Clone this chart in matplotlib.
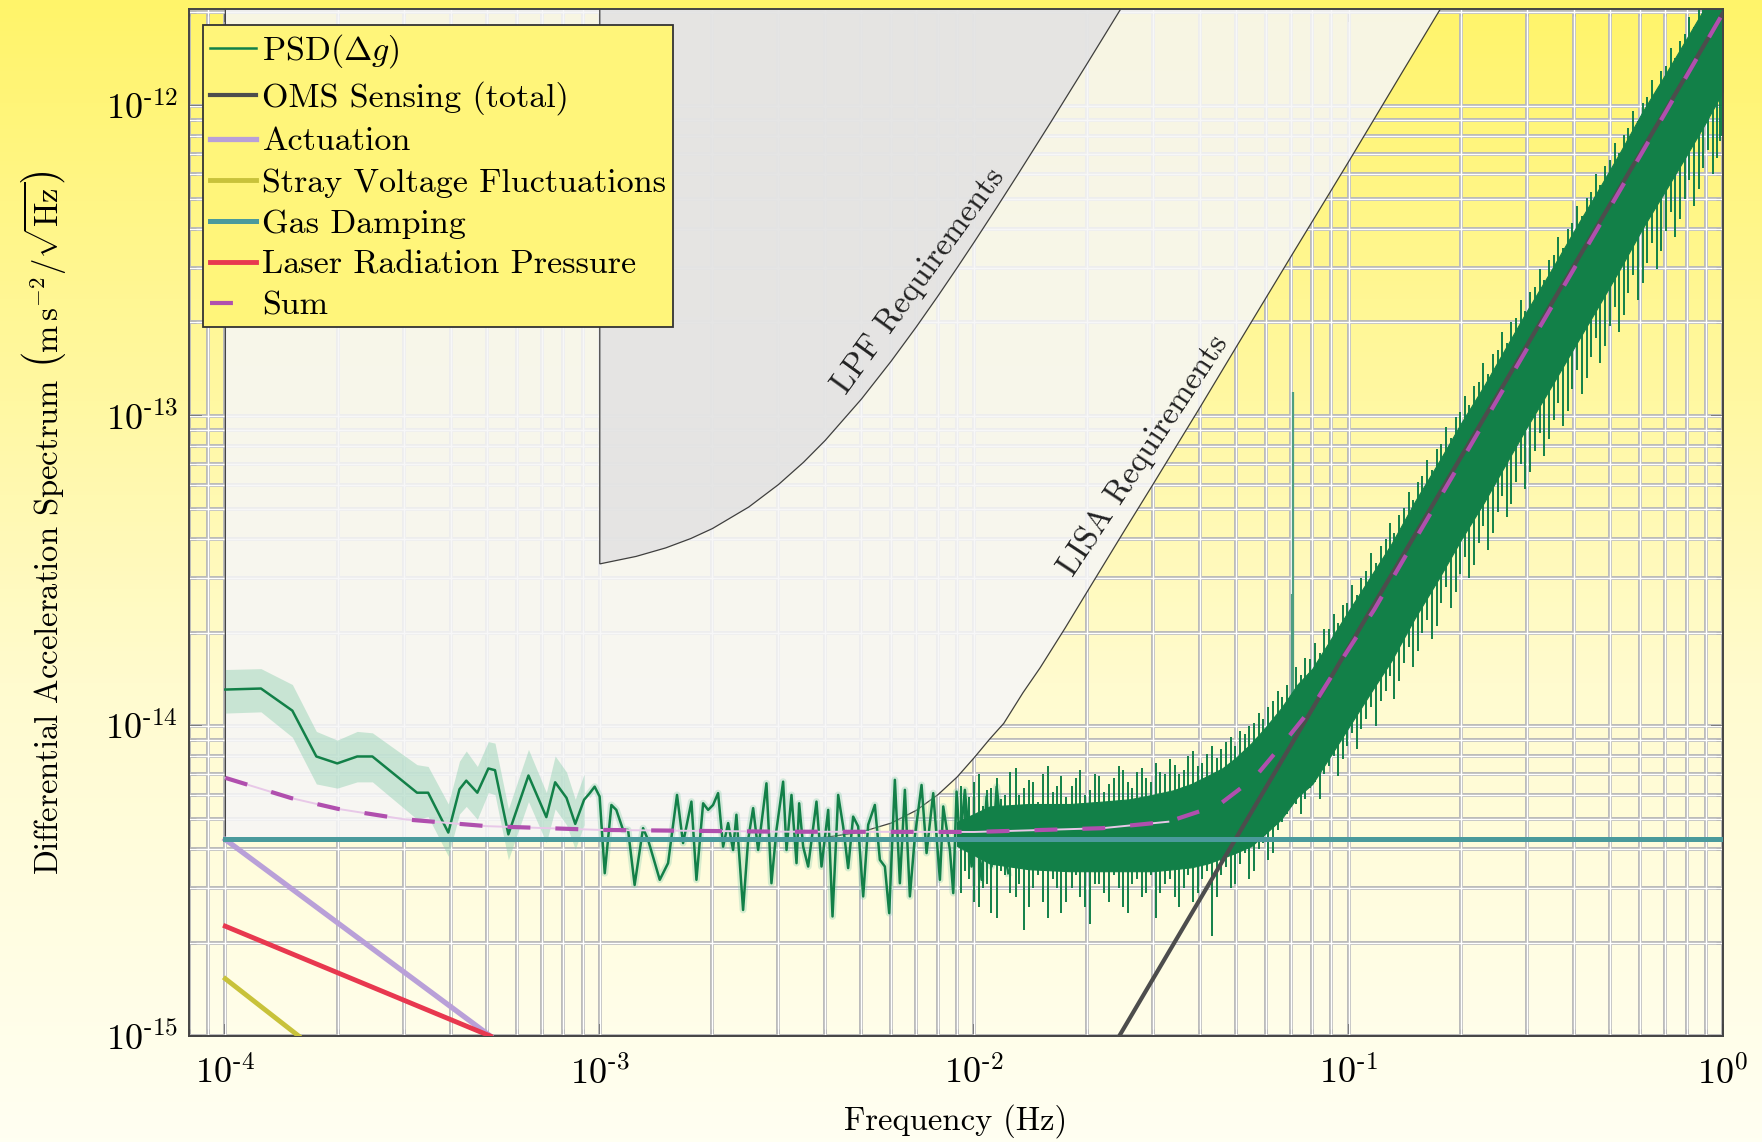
import numpy as np
import matplotlib
matplotlib.use('Agg')
import matplotlib.pyplot as plt
from matplotlib.colors import LinearSegmentedColormap
from matplotlib.ticker import LogLocator, NullFormatter, FuncFormatter

plt.rcParams['font.family'] = ['cmr10', 'DejaVu Serif']
plt.rcParams['mathtext.fontset'] = 'cm'
plt.rcParams['axes.formatter.use_mathtext'] = True

FM = 1e-15  # spectra below are in fm s^-2 / sqrt(Hz)

# measured PSD, low frequencies (mHz) with error band
psd_low_f = [0.100, 0.1245, 0.151, 0.175, 0.199, 0.225, 0.247, 0.325, 0.348, 0.394, 0.422,
             0.440, 0.471, 0.504, 0.525, 0.570, 0.645, 0.720, 0.760, 0.815, 0.860, 0.908]
psd_low = [13.1, 13.2, 11.2, 7.97, 7.57, 7.97, 7.97, 6.09, 6.09, 4.53, 6.25,
           6.66, 6.09, 7.29, 7.20, 4.47, 6.92, 5.08, 6.58, 5.86, 4.83, 5.78]
psd_low_hi = [15.2, 15.3, 13.6, 9.6, 9.0, 9.6, 9.5, 7.5, 7.4, 5.6, 7.7,
              8.3, 7.4, 8.9, 8.8, 5.4, 8.4, 6.1, 8.0, 7.1, 5.8, 7.0]
psd_low_lo = [11.0, 11.1, 9.2, 6.5, 6.3, 6.6, 6.6, 5.0, 5.1, 3.8, 5.2,
              5.5, 5.0, 6.1, 6.0, 3.7, 5.7, 4.2, 5.4, 4.8, 4.0, 4.8]

# measured PSD, mid frequencies (mHz)
psd_mid_f = [0.94, 0.969, 0.999, 1.031, 1.074, 1.107, 1.154, 1.190, 1.239, 1.305, 1.346,
             1.446, 1.522, 1.608, 1.669, 1.757, 1.812, 1.888, 1.947, 2.007, 2.070, 2.135,
             2.202, 2.270, 2.317, 2.414, 2.490, 2.568, 2.648, 2.787, 2.874, 2.964, 3.088,
             3.153, 3.251, 3.353, 3.408, 3.493, 3.602, 3.791, 3.910, 4.074, 4.184, 4.332,
             4.467, 4.606, 4.750, 4.899, 5.052, 5.210, 5.428, 5.598, 5.773, 5.929, 6.139,
             6.331, 6.529, 6.733, 6.943, 7.234, 7.460, 7.773, 8.098, 8.266, 8.612, 8.790,
             8.973, 9.159, 9.443, 9.839, 10.146, 10.464, 10.791, 11.128, 11.480, 11.960, 12.333]
psd_mid = [6.07, 6.37, 5.92, 3.35, 5.56, 5.36, 4.62, 4.62, 3.07, 4.68, 4.29,
           3.19, 3.61, 5.99, 4.19, 5.70, 3.19, 5.63, 5.36, 5.56, 6.07, 4.08,
           4.86, 3.98, 5.17, 2.55, 4.29, 5.43, 3.98, 6.53, 3.11, 4.62, 6.61,
           3.98, 5.99, 3.61, 5.63, 4.08, 3.52, 5.70, 3.52, 5.36, 2.43, 5.99,
           4.74, 3.48, 5.10, 4.74, 2.82, 4.80, 5.56, 3.70, 3.52, 2.49, 6.70,
           3.11, 6.22, 2.82, 4.40, 6.45, 3.89, 6.07, 3.19, 5.50, 3.98, 2.89,
           6.14, 4.19, 6.22, 3.52, 4.74, 3.19, 5.92, 3.52, 6.37, 4.08, 3.35]

# measured PSD, dense high-frequency part: solid core (Hz)
core_f = [0.009, 0.011, 0.014, 0.018, 0.022, 0.026, 0.030, 0.034, 0.038, 0.042, 0.046, 0.050,
          0.055, 0.060, 0.066, 0.073, 0.080, 0.090, 0.100, 0.115, 0.130, 0.150, 0.175, 0.200,
          0.230, 0.260, 0.300, 0.350, 0.400, 0.460, 0.530, 0.610, 0.700, 0.800, 0.900, 1.000]
core_up = [4.9, 5.5, 5.6, 5.6, 5.7, 5.8, 6.0, 6.2, 6.5, 6.9, 7.3, 7.9,
           8.8, 9.9, 11.4, 13.6, 15.3, 19.2, 23.5, 30.6, 38.6, 52.7, 71.8, 95.0,
           125.0, 162.0, 219.0, 299.0, 395.0, 525.0, 705.0, 958.0, 1258.0, 1650.0, 2100.0, 2650.0]
core_dn = [4.1, 3.6, 3.45, 3.4, 3.4, 3.4, 3.4, 3.45, 3.5, 3.6, 3.75, 3.9,
           4.1, 4.5, 5.0, 5.9, 6.5, 8.1, 9.9, 12.9, 16.2, 22.2, 30.2, 40.0,
           52.6, 68.3, 92.4, 126.0, 166.0, 221.0, 297.0, 403.0, 530.0, 694.0, 885.0, 1114.0]

# measured PSD, dense high-frequency part: excursions (Hz)
spike_f = [0.0092, 0.0097, 0.0103, 0.0108, 0.0115, 0.0121, 0.0129, 0.0136, 0.0144, 0.0153,
           0.0162, 0.0171, 0.0182, 0.0192, 0.0204, 0.0216, 0.0229, 0.0243, 0.0257, 0.0272,
           0.0288, 0.0305, 0.0323, 0.0343, 0.0363, 0.0384, 0.0407, 0.0431, 0.0457, 0.0484,
           0.0513, 0.0543, 0.0575, 0.0609, 0.0646, 0.0684, 0.0724, 0.0767, 0.0813, 0.0861,
           0.0912, 0.0966, 0.102, 0.108, 0.115, 0.122, 0.129, 0.136, 0.145, 0.153,
           0.162, 0.172, 0.182, 0.193, 0.204, 0.216, 0.229, 0.243, 0.257, 0.272,
           0.288, 0.305, 0.324, 0.343, 0.363, 0.385, 0.407, 0.432, 0.457, 0.484,
           0.513, 0.543, 0.575, 0.610, 0.646, 0.684, 0.725, 0.768, 0.813, 0.861,
           0.912, 0.966, 0.995]
spike_hi = [6.4, 5.9, 7.0, 6.2, 6.8, 6.0, 7.3, 6.3, 6.6, 7.0,
            6.1, 6.9, 6.4, 7.2, 6.2, 6.9, 6.5, 7.4, 6.6, 7.1,
            6.8, 7.6, 7.0, 7.5, 7.2, 8.3, 7.6, 8.6, 8.4, 9.2,
            9.6, 10.0, 11.0, 11.5, 13.0, 13.5, 15.5, 16.5, 18.5, 20.5,
            23.0, 24.5, 28.5, 30.0, 36.0, 38.0, 45.0, 48.0, 57.0, 61.0,
            72.0, 78.0, 92.0, 99.0, 116.0, 125.0, 148.0, 158.0, 186.0, 200.0,
            236.0, 250.0, 298.0, 318.0, 376.0, 400.0, 474.0, 505.0, 600.0, 640.0,
            760.0, 805.0, 960.0, 1020.0, 1210.0, 1290.0, 1530.0, 1620.0, 1930.0, 2050.0,
            2400.0, 2600.0, 2800.0]
spike_lo = [2.9, 3.2, 2.6, 3.1, 2.4, 3.3, 2.8, 2.2, 3.0, 2.7,
            3.2, 2.5, 3.0, 2.8, 2.3, 3.1, 2.7, 3.0, 2.5, 3.2,
            2.9, 2.4, 3.1, 2.8, 3.0, 2.7, 3.2, 2.1, 3.3, 3.0,
            3.6, 3.2, 4.0, 3.7, 4.6, 5.2, 5.6, 5.8, 6.6, 7.0,
            8.0, 7.8, 9.5, 9.8, 11.5, 12.0, 14.5, 14.0, 18.0, 17.5,
            22.0, 21.0, 28.0, 27.0, 35.0, 33.0, 44.0, 42.0, 55.0, 52.0,
            70.0, 66.0, 88.0, 84.0, 110.0, 104.0, 140.0, 132.0, 178.0, 168.0,
            225.0, 212.0, 285.0, 268.0, 360.0, 340.0, 455.0, 430.0, 575.0, 540.0,
            720.0, 680.0, 800.0]
spike2_f = [0.00945, 0.0100, 0.01055, 0.0111, 0.0118, 0.0125, 0.0132, 0.0140, 0.0148, 0.0157,
            0.0166, 0.0176, 0.0187, 0.0198, 0.0210, 0.0222, 0.0236, 0.0250, 0.0264, 0.0280,
            0.0296, 0.0314, 0.0333, 0.0353, 0.0373, 0.0395, 0.0419, 0.0444, 0.0470, 0.0498,
            0.0528, 0.0559, 0.0592, 0.0627, 0.0665,
            0.0745, 0.0790, 0.0837, 0.0886, 0.0939, 0.0993, 0.105, 0.1115, 0.1185, 0.1255,
            0.1325, 0.1405, 0.149, 0.1575, 0.167, 0.177, 0.1875, 0.1985, 0.210, 0.2225,
            0.236, 0.250, 0.2645, 0.280, 0.2965, 0.3145, 0.3335, 0.353, 0.374, 0.396,
            0.4195, 0.4445, 0.4705, 0.4985, 0.528, 0.559, 0.592, 0.628, 0.665, 0.704,
            0.746, 0.790, 0.837, 0.886, 0.9385, 0.980]
spike2_hi = [5.7, 6.6, 5.5, 6.3, 5.8, 7.1, 6.0, 6.7, 5.7, 7.4,
             6.4, 5.9, 6.8, 6.0, 7.0, 6.1, 6.8, 7.2, 6.3, 7.3,
             6.6, 7.1, 7.8, 7.0, 8.0, 7.4, 8.1, 7.9, 8.9, 8.6,
             9.4, 10.2, 10.5, 12.0, 12.4,
             14.6, 16.4, 17.2, 20.5, 21.5, 25.0, 26.5, 31.5, 33.5, 40.0,
             42.0, 50.5, 53.5, 64.0, 67.0, 81.0, 85.0, 103.0, 108.0, 129.0,
             136.0, 163.0, 172.0, 206.0, 217.0, 260.0, 275.0, 330.0, 348.0, 418.0,
             440.0, 528.0, 556.0, 668.0, 705.0, 845.0, 890.0, 1065.0, 1125.0, 1345.0,
             1420.0, 1700.0, 1790.0, 2140.0, 2260.0, 2600.0]
spike2_lo = [3.4, 2.7, 3.0, 2.5, 3.4, 2.9, 3.1, 2.6, 3.3, 2.4,
             3.0, 2.7, 3.3, 2.6, 3.1, 2.9, 3.3, 2.6, 3.1, 2.8,
             3.3, 2.9, 3.2, 2.6, 3.3, 2.9, 3.4, 2.8, 3.5, 3.1,
             3.9, 3.4, 4.2, 3.9, 4.9,
             5.2, 6.3, 5.8, 7.4, 6.9, 8.6, 8.4, 10.5, 10.0, 13.0,
             12.2, 16.0, 15.5, 20.0, 19.0, 25.0, 24.0, 31.0, 30.0, 39.0,
             37.0, 49.0, 47.0, 61.0, 58.0, 77.0, 74.0, 97.0, 93.0, 122.0,
             118.0, 155.0, 148.0, 195.0, 186.0, 248.0, 236.0, 312.0, 298.0, 395.0,
             378.0, 500.0, 475.0, 630.0, 600.0, 770.0]

# narrow lines in the measured PSD (Hz)
line_f = [0.0706, 0.0712]
line_top = [26.7, 119.0]
line_bottom = [10.0, 10.0]

# noise model contributions (Hz, fm s^-2 / sqrt(Hz))
oms_f, oms = [0.0244, 1.0], [1.0, 1990.0]
act_f, act = [1e-4, 5.1e-4], [4.3, 1.0]
stray_f, stray = [1e-4, 1.57e-4], [1.53, 1.0]
gas_f, gas = [1e-4, 1.0], [4.33, 4.33]
laser_f, laser = [1e-4, 5.1e-4], [2.26, 1.0]
sum_f = [1e-4, 1.5e-4, 2e-4, 3e-4, 5e-4, 1e-3, 3e-3, 1e-2, 2.2e-2, 3.3e-2, 4.5e-2,
         5.6e-2, 6.8e-2, 8e-2, 9.7e-2, 0.117, 0.15, 0.2, 0.3, 0.5, 0.7, 1.0]
sum_v = [6.8, 5.85, 5.4, 5.0, 4.75, 4.62, 4.56, 4.55, 4.68, 4.91, 5.56,
         6.8, 9.0, 11.5, 16.7, 23.7, 39.6, 71.4, 165.0, 472.0, 946.0, 1990.0]

# requirement curves (Hz, fm s^-2 / sqrt(Hz))
lisa_f = [1e-4, 3e-3, 4e-3, 5e-3, 6e-3, 7e-3, 8e-3, 9e-3, 1e-2, 1.1e-2, 1.2e-2, 1.35e-2,
          1.5e-2, 1.75e-2, 2e-2, 2.5e-2, 3e-2, 4e-2, 5e-2, 7e-2, 0.1, 0.14, 0.18]
lisa_v = [4.3, 4.3, 4.37, 4.55, 4.86, 5.34, 6.0, 6.84, 7.9, 9.07, 10.2, 12.8,
          15.4, 20.7, 27.0, 42.0, 60.0, 106.0, 166.0, 325.0, 660.0, 1300.0, 2150.0]
lpf_f = [1e-3, 1.25e-3, 1.5e-3, 1.75e-3, 2e-3, 2.5e-3, 3e-3, 3.5e-3, 4e-3, 5e-3, 6e-3,
         7e-3, 8e-3, 9e-3, 1e-2, 1.15e-2, 1.3e-2, 1.6e-2, 2e-2, 2.5e-2]
lpf_v = [33.3, 35.2, 37.5, 40.2, 43.3, 50.8, 60.0, 70.8, 83.3, 113.3, 150.0,
         193.3, 243.3, 300.0, 363.3, 470.8, 593.3, 883.0, 1363.0, 2113.0]

fig = plt.figure(figsize=(17.62, 11.42), dpi=100)

# yellow background gradient
bg = fig.add_axes([0, 0, 1, 1], zorder=-1)
grad = LinearSegmentedColormap.from_list(
    'bg', [(0.0, '#FFF46A'), (0.35, '#FFF8A2'), (0.6, '#FFFBCF'), (1.0, '#FFFFF2')])
bg.imshow(np.linspace(0, 1, 256).reshape(-1, 1), aspect='auto', cmap=grad, extent=[0, 1, 0, 1])
bg.axis('off')

ax = fig.add_axes([0.1073, 0.0928, 0.8706, 0.8993])
ax.set_facecolor('none')
ax.set_xscale('log')
ax.set_yscale('log')
ax.set_xlim(8e-5, 1.0)
ax.set_ylim(1e-15, 2.05e-12)
ax.set_xticks([1e-4, 1e-3, 1e-2, 1e-1, 1e0])
ax.set_yticks([1e-15, 1e-14, 1e-13, 1e-12])


def dec_label(v, pos):
    e = int(round(np.log10(v)))
    if e < 0:
        return r'$10^{\text{-}%d}$' % -e
    return r'$10^{%d}$' % e


for axis in (ax.xaxis, ax.yaxis):
    axis.set_major_formatter(FuncFormatter(dec_label))
    axis.set_minor_locator(LogLocator(base=10, subs=np.arange(2, 10), numticks=50))
    axis.set_minor_formatter(NullFormatter())

# grid: grey lines with a white core
ax.set_axisbelow(True)
ax.grid(True, which='both', color='#b9b9b9', lw=2.8)
x0, x1 = ax.get_xlim()
y0, y1 = ax.get_ylim()
for t in list(ax.get_xticks()) + list(ax.xaxis.get_minorticklocs()):
    if x0 < t < x1:
        ax.axvline(t, color='white', lw=1.0, zorder=0.6)
for t in list(ax.get_yticks()) + list(ax.yaxis.get_minorticklocs()):
    if y0 < t < y1:
        ax.axhline(t, color='white', lw=1.0, zorder=0.6)

# requirement regions
top = 3000.0
ax.fill(lisa_f + [lisa_f[-1], lisa_f[0]], np.array(lisa_v + [top, top]) * FM,
        fc='#F6F6F7', ec='#222222', lw=0.9, alpha=0.86, zorder=0.8)
ax.fill(lpf_f + [lpf_f[-1], lpf_f[0]], np.array(lpf_v + [top, top]) * FM,
        fc='#E2E2E2', ec='#222222', lw=0.9, alpha=0.86, zorder=0.85)
ax.text(7.1e-3, 2.72e-13, 'LPF Requirements', rotation=54, rotation_mode='anchor',
        ha='center', va='center', fontsize=23.5, color='#222222', zorder=1)
ax.text(2.84e-2, 7.48e-14, 'LISA Requirements', rotation=56.5, rotation_mode='anchor',
        ha='center', va='center', fontsize=23.5, color='#222222', zorder=1)

# measured PSD
green = '#128048'
low_f = np.array(psd_low_f) * 1e-3
mid_f = np.array(psd_mid_f) * 1e-3
ax.fill_between(low_f, np.array(psd_low_lo) * FM, np.array(psd_low_hi) * FM,
                color='#8fd0b0', alpha=0.45, lw=0, zorder=2)
ax.plot(mid_f, np.array(psd_mid) * FM, color='#8fd0b0', lw=5, alpha=0.35, zorder=2)
h_psd, = ax.plot(np.r_[low_f, mid_f], np.r_[psd_low, psd_mid] * FM, color=green, lw=1.8, zorder=2.1)
ax.fill_between(core_f, np.array(core_dn) * FM, np.array(core_up) * FM,
                color=green, lw=0.8, zorder=2.1)
for sf, shi, slo in ((spike_f, spike_hi, spike_lo), (spike2_f, spike2_hi, spike2_lo)):
    ax.vlines(sf, np.array(slo) * FM, np.array(shi) * FM, color=green, lw=1.4, zorder=2.1)
ax.vlines(line_f, np.array(line_bottom) * FM, np.array(line_top) * FM, color='#4e9e80', lw=1.6, zorder=2.05)

# noise model (thin pale trace of the sum only where it sits above the floor)
ax.plot(sum_f[:10], np.array(sum_v[:10]) * FM, color='#e8c8e8', lw=1.4, zorder=2.9)
h_oms, = ax.plot(oms_f, np.array(oms) * FM, color='#4d4d4d', lw=3, zorder=3)
h_act, = ax.plot(act_f, np.array(act) * FM, color='#b9a0d8', lw=3.8, zorder=3)
h_str, = ax.plot(stray_f, np.array(stray) * FM, color='#c8c23a', lw=3.5, zorder=3)
h_gas, = ax.plot(gas_f, np.array(gas) * FM, color='#4a9a9c', lw=3.6, zorder=3.1)
h_las, = ax.plot(laser_f, np.array(laser) * FM, color='#e8384f', lw=3.5, zorder=3)
h_sum, = ax.plot(sum_f, np.array(sum_v) * FM, color='#b04fae', lw=3, dashes=(5.5, 6), zorder=3.3)

ax.tick_params(which='both', direction='in', top=True, right=True, color='#444444')
ax.tick_params(which='major', length=9, width=1.1, labelsize=26)
ax.tick_params(which='minor', length=5, width=0.9)
ax.tick_params(axis='x', pad=14)
ax.tick_params(axis='y', pad=8)
for s in ax.spines.values():
    s.set_color('#444444')
    s.set_linewidth(1.4)

ax.set_xlabel('Frequency (Hz)', fontsize=23.5)
ax.xaxis.set_label_coords(0.5, -0.066)
ax.set_ylabel(r'Differential Acceleration Spectrum $\left(\mathrm{m\,s^{-2}}/\sqrt{\mathrm{Hz}}\right)$',
              fontsize=23.5)
ax.yaxis.set_label_coords(-0.079, 0.5)

leg = ax.legend([h_psd, h_oms, h_act, h_str, h_gas, h_las, h_sum],
                [r'PSD($\Delta g$)', 'OMS Sensing (total)', 'Actuation', 'Stray Voltage Fluctuations',
                 'Gas Damping', 'Laser Radiation Pressure', 'Sum'],
                loc='upper left', bbox_to_anchor=(0.009, 0.984), borderaxespad=0,
                fontsize=24.5, handlelength=1.35, handletextpad=0.2, labelspacing=0.33,
                borderpad=0.2, fancybox=False, framealpha=1, facecolor='#FFF57A',
                edgecolor='#333333')
leg.get_frame().set_linewidth(1.3)
leg.set_zorder(5)

fig.savefig('out.png', dpi=100)
